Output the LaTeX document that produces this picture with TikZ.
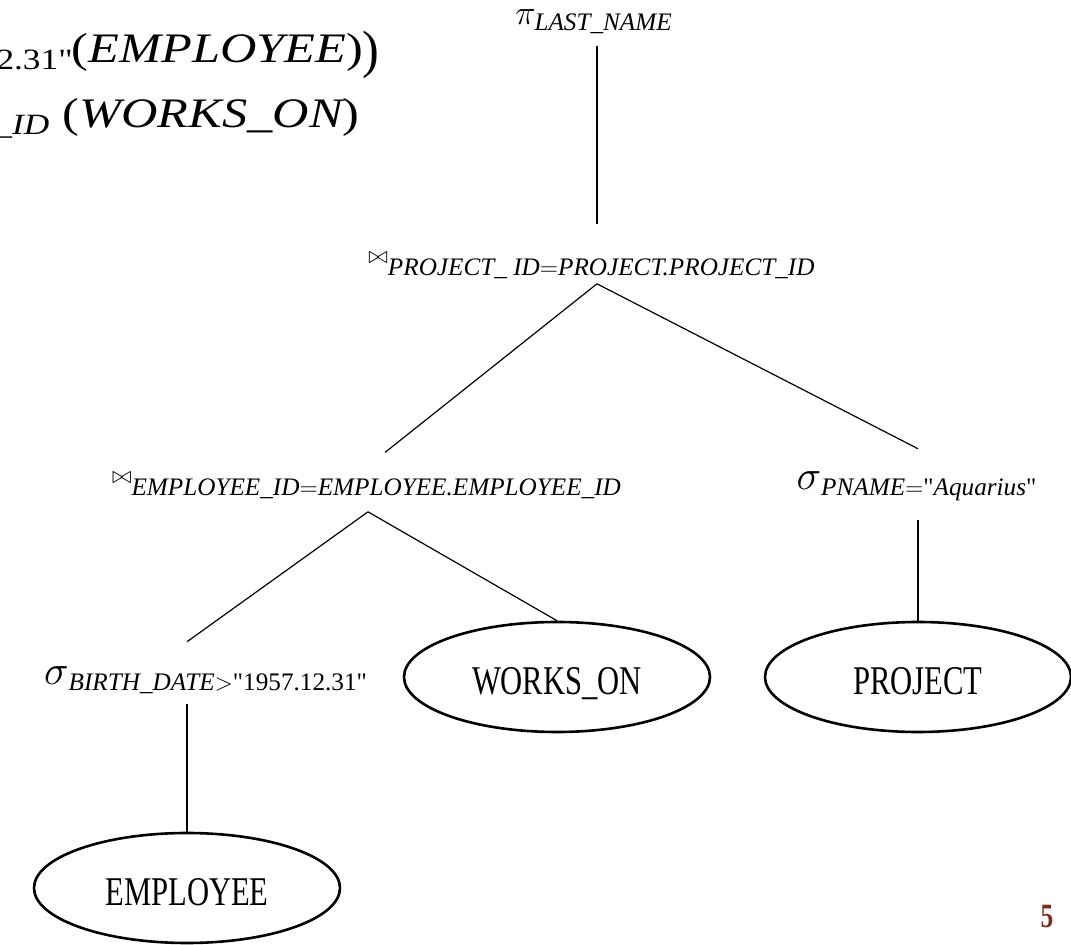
\documentclass[tikz,border=0pt]{standalone}
\usepackage{amsmath}
\usepackage{fontspec}
\setmainfont{Liberation Serif}
\newfontfamily\labelfont{Liberation Serif}
\newfontfamily\relfont[FakeStretch=0.75]{Liberation Serif}
\newfontfamily\eqfont[FakeStretch=1.2]{Liberation Serif}
\usetikzlibrary{calc,shapes.geometric}
\definecolor{pagebrown}{RGB}{120,46,22}
\newcommand{\joinsym}{\mathord{\raisebox{3pt}{$\scriptstyle\bowtie$}}}
\newcommand{\selsym}{\mathord{\scalebox{1.2}{$\sigma$}}}
\newcommand{\bigparen}{\raisebox{-0.1em}{\scalebox{1}[1.25]{)}}}
\tikzset{
  opnode/.style={
    inner sep=0pt,
    anchor=base,
    font=\labelfont\fontsize{18}{22}\selectfont
  },
  relation/.style={
    draw,
    ellipse,
    line width=1.3pt,
    minimum width=153pt,
    minimum height=55pt,
    inner sep=0pt,
    text height=17.5pt,
    text depth=0pt,
    font=\relfont\fontsize{20.4}{24}\selectfont
  },
  formula/.style={
    inner sep=0pt,
    anchor=base east,
    font=\eqfont\itshape\fontsize{21}{25}\selectfont
  },
  branch/.style={line width=0.6pt}
}
\begin{document}
\begin{tikzpicture}[x=0.5pt, y=-0.5pt]
\useasboundingbox (0,0) rectangle (1071,945);

% query text, cut by the page edge
\node[formula] (eqa) at (380,63) {\textsubscript{\upshape 2.31"}\hspace{-1pt}{\upshape(}EMPLOYEE{\upshape)\bigparen}};
\node[formula] (eqb) at (360,128) {\textsubscript{\_ID}\ {\upshape(}WORKS\_ON{\upshape)}};

% operators
\node[opnode] (proj) at (594,25) {$\pi_{\textit{LAST\_NAME}}$};
\node[opnode] (joinp) at (592,270) {$\joinsym_{\textit{PROJECT\_ ID}=\textit{PROJECT.PROJECT\_ID}}$};
\node[opnode] (joine) at (367,490) {$\joinsym_{\textit{EMPLOYEE\_ID}=\textit{EMPLOYEE.EMPLOYEE\_ID}}$};
\node[opnode] (selp) at (917,490) {$\selsym_{\textit{PNAME}=\textup{"}\textit{Aquarius}\textup{"}}$};
\node[opnode] (selb) at (206,685) {$\selsym_{\textit{BIRTH\_DATE}>\textup{"1957.12.31"}}$};

% relations
\node[relation] (employee) at (187,888) {EMPLOYEE};
\node[relation] (workson) at (557,677) {WORKS\_ON};
\node[relation] (project) at (918,677) {PROJECT};

\node[inner sep=0pt, text=pagebrown, font=\relfont\bfseries\fontsize{17}{19}\selectfont] (pagenum) at (1047,917) {5};

\draw[branch] ($(proj.south)+(3,12)$) -- ($(joinp.north)+(5,-28)$);
\draw[branch] ($(joinp.south)+(5,5)$) -- ($(joine.north)+(18,-20)$);
\draw[branch] ($(joinp.south)+(5,5)$) -- ($(selp.north)+(1,-23)$);
\draw[branch] ($(joine.south)+(1,13)$) -- ($(selb.north)+(-19,-25)$);
\draw[branch] ($(joine.south)+(1,13)$) -- (workson.north);
\draw[branch] ($(selp.south)+(1,19)$) -- (project.north);
\draw[branch] ($(selb.south)+(-19,10)$) -- (employee.north);

\end{tikzpicture}
\end{document}
